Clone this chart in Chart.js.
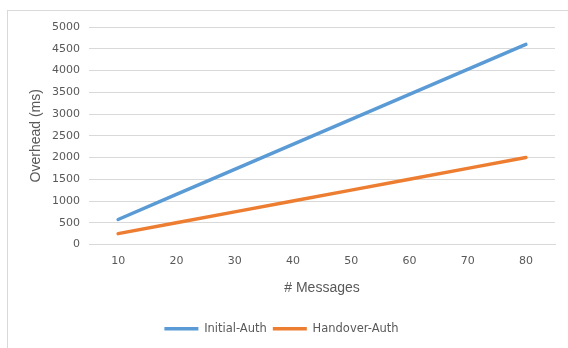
<!DOCTYPE html>
<html>
<head>
<meta charset="utf-8">
<script src="https://cdn.jsdelivr.net/npm/chart.js@4.4.1/dist/chart.umd.min.js"></script>
<style>
  html, body { margin: 0; padding: 0; background: #ffffff; }
  #frame {
    position: absolute; left: 7px; top: 10px;
    border-left: 1px solid #d9d9d9; border-top: 1px solid #d9d9d9;
  }
  #holder { position: relative; width: 560px; height: 337px; }
</style>
</head>
<body>
<div id="frame"><div id="holder"><canvas id="chart"></canvas></div></div>
<script>
// Message counts on the x axis
const messageCounts = ['10', '20', '30', '40', '50', '60', '70', '80'];
// Authentication overhead in milliseconds
const initialAuth  = [575, 1150, 1725, 2300, 2875, 3450, 4025, 4600];
const handoverAuth = [250, 500, 750, 1000, 1250, 1500, 1750, 2000];
// Overhead axis range
const yMin = 0, yMax = 5000, yStep = 500;

const tickColor = '#595959';
const gridColor = '#d9d9d9';

new Chart(document.getElementById('chart'), {
  type: 'line',
  data: {
    labels: messageCounts,
    datasets: [
      {
        label: 'Initial-Auth',
        data: initialAuth,
        borderColor: '#5b9bd5',
        backgroundColor: '#5b9bd5',
        borderWidth: 3.5,
        borderCapStyle: 'round',
        pointRadius: 0,
        pointStyle: 'line',
        tension: 0
      },
      {
        label: 'Handover-Auth',
        data: handoverAuth,
        borderColor: '#ed7d31',
        backgroundColor: '#ed7d31',
        borderWidth: 3.5,
        borderCapStyle: 'round',
        pointRadius: 0,
        pointStyle: 'line',
        tension: 0
      }
    ]
  },
  options: {
    responsive: true,
    maintainAspectRatio: false,
    animation: false,
    devicePixelRatio: 1,
    layout: { padding: { top: 16, right: 13, left: 0, bottom: 3.5 } },
    plugins: {
      tooltip: { enabled: false },
      legend: {
        position: 'bottom',
        labels: {
          usePointStyle: true,
          pointStyleWidth: 34,
          boxHeight: 11,
          padding: 6,
          color: tickColor,
          font: { family: 'DejaVu Sans', size: 11.5 }
        }
      }
    },
    scales: {
      x: {
        offset: true,
        grid: { display: false, drawTicks: false },
        border: { display: true, color: gridColor, width: 1 },
        ticks: { color: tickColor, padding: 10, font: { family: 'DejaVu Sans', size: 11 } },
        title: {
          display: true,
          text: '# Messages',
          color: tickColor,
          padding: { top: 0, bottom: 20.4 },
          font: { family: 'Liberation Sans', size: 14 }
        },
        afterFit: s => { s.height = 72.5; }
      },
      y: {
        min: yMin,
        max: yMax,
        grid: { color: gridColor, lineWidth: 1, drawTicks: false },
        border: { display: false },
        ticks: {
          stepSize: yStep,
          color: tickColor,
          padding: 9,
          font: { family: 'DejaVu Sans', size: 11 },
          callback: v => String(v)
        },
        title: {
          display: true,
          text: 'Overhead (ms)',
          color: tickColor,
          padding: { top: 19.6, bottom: 0 },
          font: { family: 'Liberation Sans', size: 14 }
        },
        afterFit: s => { s.width = 81; }
      }
    }
  }
});
</script>
</body>
</html>
